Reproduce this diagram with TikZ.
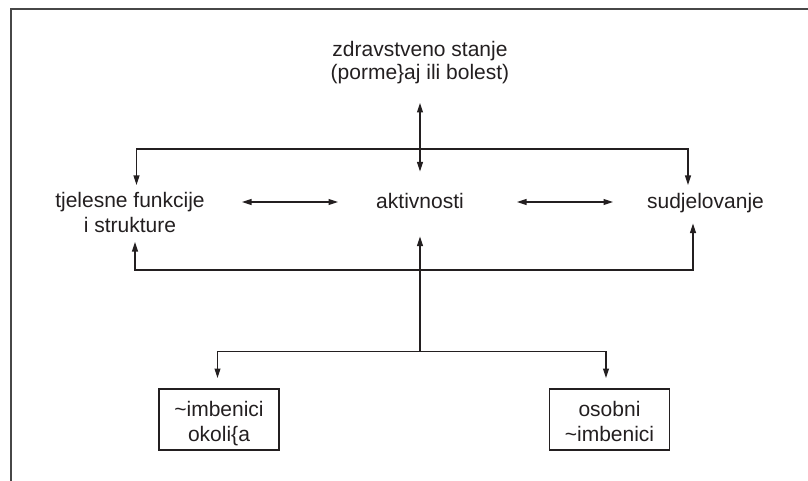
\documentclass[tikz,border=0pt]{standalone}
\usepackage{fontspec}
\setmainfont{Liberation Sans}
\usetikzlibrary{arrows.meta}
\definecolor{ink}{RGB}{35,31,32}
\newcommand{\firststrut}{\rule{0pt}{23pt}}
\newcommand{\laststrut}{\rule[-5pt]{0pt}{5pt}}
\begin{document}
\begin{tikzpicture}[x=1pt,y=-1pt,
  txt/.style={text=ink,inner sep=0pt,font=\fontsize{21}{25}\selectfont,align=center},
  boxnode/.style={txt,draw=ink,line width=1.1pt,minimum width=120pt,minimum height=61pt},
  conn/.style={draw=ink,line width=1.1pt,{Triangle[length=9.5pt,width=6pt]}-{Triangle[length=9.5pt,width=6pt]}},
  uconn/.style={draw=ink,line width=1.1pt,-{Triangle[length=9.5pt,width=6pt]}},
  frameline/.style={draw=black!72,line width=2pt}]
\useasboundingbox (0,0) rectangle (808,481);
% frame
\draw[frameline] (808,9.5) -- (11,9.5) -- (11,481);
% nodes
\node[txt,font=\fontsize{21}{23}\selectfont] (top) at (420,59.5) {\firststrut zdravstveno stanje\\(porme\}aj ili bolest)\laststrut};
\node[txt] (tf) at (130,211.5) {\firststrut tjelesne funkcije\\i strukture\laststrut};
\node[txt,anchor=base] (akt) at (420,208) {aktivnosti};
\node[txt,anchor=base] (sud) at (705.5,208) {sudjelovanje};
\node[boxnode] (env) at (219,419.5) {\firststrut\textasciitilde imbenici\\okoli\{a\laststrut};
\node[boxnode] (pers) at (609.5,419.5) {\firststrut osobni\\\textasciitilde imbenici\laststrut};
% coordinates
\coordinate (topA) at (420,103);
\coordinate (aktA) at (420,171.5);
\coordinate (tfT) at (136.5,185);
\coordinate (tlc) at (136.5,149);
\coordinate (trc) at (688,149);
\coordinate (sudT) at (688,185);
\coordinate (tfR) at (242,202);
\coordinate (aktL) at (338,202);
\coordinate (aktR) at (517,202);
\coordinate (sudL) at (613,202);
\coordinate (tfB) at (135,242);
\coordinate (blc) at (135,270);
\coordinate (brc) at (693,270);
\coordinate (sudB) at (693,223.5);
\coordinate (jc) at (420,351.5);
\coordinate (aktB) at (420,236.5);
\coordinate (envT) at (217.5,378);
\coordinate (ljc) at (217.5,351.5);
\coordinate (rjc) at (606,351.5);
\coordinate (persT) at (606,378);
% connectors
\draw[conn] (topA) -- (aktA);
\draw[conn] (tfT) -- (tlc) -- (trc) -- (sudT);
\draw[conn] (tfR) -- (aktL);
\draw[conn] (aktR) -- (sudL);
\draw[conn] (tfB) -- (blc) -- (brc) -- (sudB);
\draw[uconn] (jc) -- (aktB);
\draw[conn] (envT) -- (ljc) -- (rjc) -- (persT);
\end{tikzpicture}
\end{document}
